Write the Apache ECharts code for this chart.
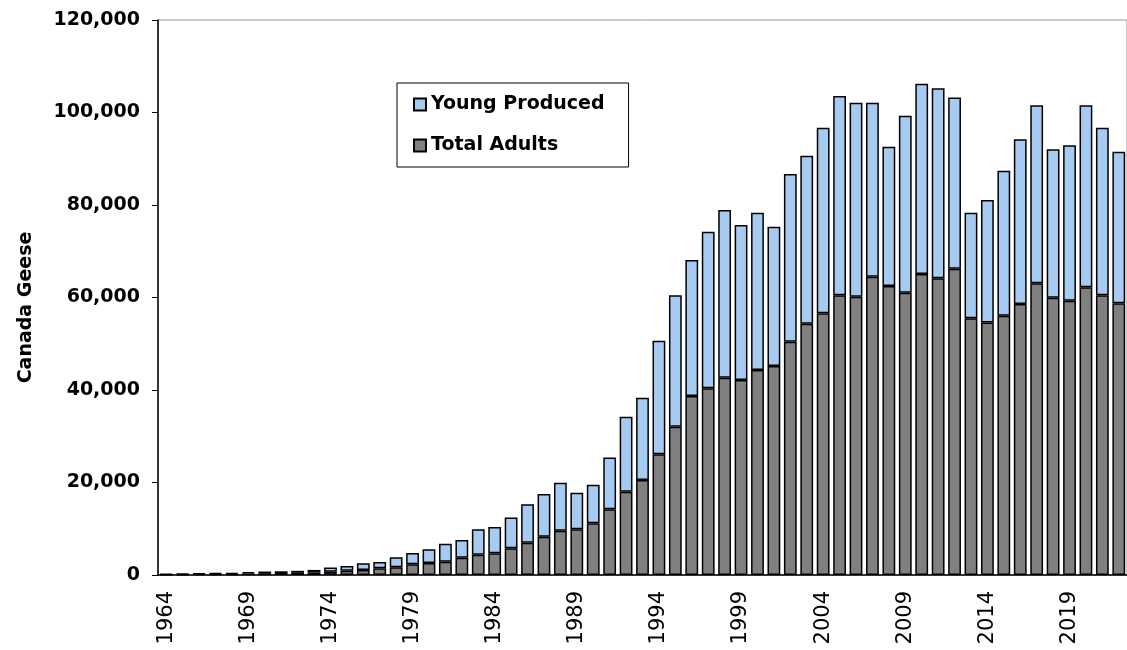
<!DOCTYPE html>
<html>
<head>
<meta charset="utf-8">
<script src="https://cdn.jsdelivr.net/npm/echarts@6/dist/echarts.min.js"></script>
<style>
  html, body { margin: 0; padding: 0; background: #fff; }
  #chart { width: 1127px; height: 650px; }
</style>
</head>
<body>
<div id="chart"></div>
<script>
var years = [];
for (var y = 1964; y <= 2022; y++) years.push(String(y));

var adults = [100, 130, 200, 220, 250, 330, 400, 430, 480, 550,
  700, 930, 1080, 1440, 1660, 2350, 2600, 2880, 3750, 4400,
  4690, 5800, 6990, 8250, 9590, 9880, 11170, 14200, 18010, 20540,
  26090, 32060, 38700, 40360, 42660, 42160, 44320, 45190, 50440, 54300,
  56580, 60470, 60170, 64490, 62480, 61040, 65080, 64150, 66220, 55500,
  54600, 56060, 58590, 63070, 59950, 59300, 62200, 60470, 58740];

var young = [100, 120, 150, 180, 200, 270, 350, 370, 420, 550,
  900, 1020, 1470, 1360, 2160, 2400, 2950, 3870, 3800, 5480,
  5710, 6650, 8290, 9250, 10370, 7920, 8360, 11200, 16220, 17800,
  24570, 28410, 29400, 33860, 36250, 33510, 34010, 30120, 36260, 36360,
  40130, 43090, 41950, 37630, 30120, 38260, 41140, 41070, 37050, 22830,
  26475, 31350, 35610, 38480, 32090, 33600, 39350, 36240, 32780];

var dom = document.getElementById("chart");
var chart = echarts.init(dom);
var option = {
    animation: false,
    grid: {
        left: 158,
        width: 972,
        top: 20,
        height: 555,
        show: true,
        borderColor: '#999',
        borderWidth: 1
    },
    legend: {
        orient: 'vertical',
        left: 397,
        top: 83,
        data: ['Young Produced', 'Total Adults'],
        icon: 'rect',
        itemWidth: 12,
        itemHeight: 12,
        itemGap: 22,
        padding: [12, 24, 12, 16],
        backgroundColor: '#fff',
        borderColor: '#000',
        borderWidth: 1,
        textStyle: {
            fontFamily: 'DejaVu Sans',
            fontWeight: 'bold',
            fontSize: 19,
            color: '#000'
        }
    },
    xAxis: {
        type: 'category',
        data: years,
        axisLine: { lineStyle: { color: '#000', width: 1.5 } },
        axisTick: { interval: 0, length: 6, lineStyle: { color: '#000' } },
        axisLabel: {
            interval: 4,
            rotate: 90,
            margin: 16,
            fontFamily: 'DejaVu Sans',
            fontSize: 21,
            color: '#000'
        }
    },
    yAxis: {
        type: 'value',
        min: 0,
        max: 120000,
        interval: 20000,
        name: 'Canada Geese',
        nameLocation: 'middle',
        nameGap: 122,
        nameTextStyle: {
            fontFamily: 'DejaVu Sans',
            fontWeight: 'bold',
            fontSize: 19,
            color: '#000',
            padding: [0, 20, 0, 0]
        },
        axisLine: { show: true, lineStyle: { color: '#000', width: 1.5 } },
        axisTick: { show: true, length: 6, lineStyle: { color: '#000' } },
        splitLine: { show: false },
        axisLabel: {
            margin: 18,
            fontFamily: 'DejaVu Sans',
            fontWeight: 'bold',
            fontSize: 19,
            color: '#000',
            formatter: function (v) { return v.toLocaleString('en-US'); }
        }
    },
    series: [{
        name: 'Total Adults',
        type: 'bar',
        stack: 'geese',
        data: adults,
        barCategoryGap: '22%',
        itemStyle: { color: '#808080', borderColor: '#000', borderWidth: 1.5 }
    }, {
        name: 'Young Produced',
        type: 'bar',
        stack: 'geese',
        data: young,
        barCategoryGap: '22%',
        itemStyle: { color: '#a6caf0', borderColor: '#000', borderWidth: 1.5 }
    }]
};
chart.setOption(option, true);
</script>
</body>
</html>
